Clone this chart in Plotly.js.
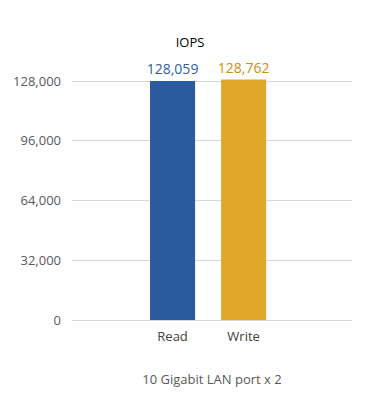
<!DOCTYPE html>
<html><head><meta charset="utf-8">
<script src="https://cdn.plot.ly/plotly-3.0.1.min.js"></script>
<style>html,body{margin:0;padding:0;background:#fff;}#chart{width:380px;height:420px;}</style>
</head><body><div id="chart"></div>
<script>
var categories = ["Read", "Write"];
var iops = [128059, 128762];
var barColors = ["#2B5B9E", "#E1A62C"];
var labelColors = ["#2E5FA3", "#CC8E10"];
var yTicks = [0, 32000, 64000, 96000, 128000];

var trace = {
  type: "bar",
  x: [0, 1],
  y: iops,
  width: 0.634,
  marker: {color: barColors},
  text: iops.map(function(v){return v.toLocaleString("en-US");}),
  textposition: "outside",
  constraintext: "none",
  cliponaxis: false,
  textfont: {family: "Open Sans, sans-serif", size: 14, color: labelColors},
  hoverinfo: "none"
};

var layout = {
  width: 380, height: 420,
  margin: {l: 72, r: 28, t: 70, b: 100},
  paper_bgcolor: "#fff", plot_bgcolor: "#fff",
  showlegend: false,
  title: {text: "IOPS", x: 0.5, xanchor: "center", y: 0.9, yanchor: "middle", yref: "container",
          font: {family: "Open Sans, sans-serif", size: 13, color: "#000"}},
  xaxis: {
    range: [-1.415, 2.525], tickvals: [0, 1], ticktext: categories,
    showgrid: false, zeroline: false, showline: false, ticks: "",
    ticklabelstandoff: 7,
    tickfont: {family: "Open Sans, sans-serif", size: 13, color: "#404040"},
    title: {text: "10 Gigabit LAN port x 2", standoff: 30,
            font: {family: "Open Sans, sans-serif", size: 13, color: "#595959"}}
  },
  yaxis: {
    range: [0, 133900], tickvals: yTicks,
    ticktext: yTicks.map(function(v){return v.toLocaleString("en-US");}),
    showgrid: true, gridcolor: "#D9D9D9", gridwidth: 1,
    zeroline: true, zerolinecolor: "#D9D9D9", zerolinewidth: 1,
    showline: false, ticks: "", ticklabelstandoff: 10,
    tickfont: {family: "Open Sans, sans-serif", size: 13, color: "#595959"}
  }
};

Plotly.newPlot("chart", [trace], layout, {displayModeBar: false, staticPlot: true});
</script></body></html>
